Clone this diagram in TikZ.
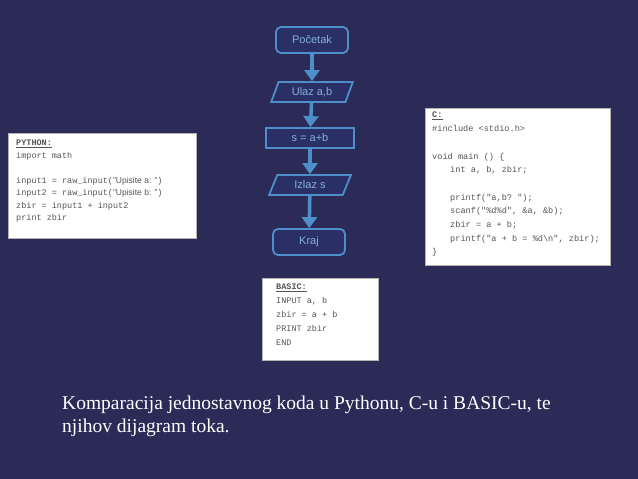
\documentclass[tikz,border=0pt]{standalone}
\usepackage{fontspec}
\setmainfont{Liberation Serif}
\setsansfont{Liberation Sans}
\setmonofont{Liberation Mono}
\usetikzlibrary{shapes.geometric,arrows.meta}
\definecolor{bg}{HTML}{2C2B58}
\definecolor{fc}{HTML}{4F8FC9}
\definecolor{fill}{HTML}{2A2F66}
\definecolor{codec}{HTML}{555555}
\tikzset{
 fnode/.style={draw=fc,line width=1.8pt,fill=fill,text=fc!70!white,font=\sffamily\fontsize{11}{12}\selectfont,minimum height=20pt,inner sep=2pt},
 term/.style={fnode,rounded corners=5pt,minimum width=72pt,minimum height=26pt},
 proc/.style={fnode,minimum width=88pt},
 io/.style={fnode,trapezium,trapezium left angle=70,trapezium right angle=110,minimum width=82pt,trapezium stretches=true},
 arr/.style={draw=fc,line width=3.5pt,-{Triangle[length=11pt,width=15pt]}},
 codebox/.style={draw=gray!60,fill=white,line width=0.5pt},
 code/.style={anchor=north west,align=left,text=codec,inner sep=0pt},
}
\begin{document}
\begin{tikzpicture}[x=1pt,y=-1pt]
\fill[bg] (0,0) rectangle (638,479);
\useasboundingbox (0,0) rectangle (638,479);
% flowchart
\node[term] (p) at (312,40) {Početak};
\node[io] (u) at (312,92) {Ulaz  a,b};
\node[proc] (s) at (310,138) {s = a+b};
\node[io] (i) at (310,185) {Izlaz  s};
\node[term] (k) at (309,242) {Kraj};
\draw[arr] (p) -- (u);
\draw[arr] (u) -- (s);
\draw[arr] (s) -- (i);
\draw[arr] (i) -- (k);
% python
\node[codebox,minimum width=188pt,minimum height=105pt,anchor=north west] (pyb) at (8,133) {};
\node[code,font={\ttfamily\fontsize{8.5}{12.5}\selectfont}] (pyt) at (16,140) {\underline{\textbf{PYTHON:}}\\import math\\[12.5pt]
input1 = raw\_input({\sffamily"Upisite a: "})\\
input2  = raw\_input({\sffamily"Upisite b: "})\\
zbir = input1 + input2\\print zbir};
% C
\node[codebox,minimum width=185pt,minimum height=157pt,anchor=north west] (cb) at (425,108) {};
\node[code,font={\ttfamily\fontsize{8.6}{13.7}\selectfont}] (ct) at (432,112) {\underline{\textbf{C:}}\\\#include <stdio.h>\\[13.7pt]
void main () \{\\
\hspace*{18pt}int a, b, zbir;\\[13.7pt]
\hspace*{18pt}printf("a,b? ");\\
\hspace*{18pt}scanf("\%d\%d", \&a, \&b);\\
\hspace*{18pt}zbir = a + b;\\
\hspace*{18pt}printf("a + b = \%d\textbackslash n", zbir);\\
\}};
% BASIC
\node[codebox,minimum width=116pt,minimum height=82pt,anchor=north west] (bb) at (262,278) {};
\node[code,font={\ttfamily\fontsize{8.5}{14}\selectfont}] (bt) at (276,284) {\underline{\textbf{BASIC:}}\\INPUT a, b\\zbir = a + b\\PRINT zbir\\END};
% caption
\node[anchor=north west,align=left,text=white,inner sep=0pt,font={\fontsize{19.5}{23}\selectfont}] (cap) at (62,396) {Komparacija jednostavnog koda u Pythonu, C-u i BASIC-u, te\\njihov dijagram toka.};
\end{tikzpicture}
\end{document}
